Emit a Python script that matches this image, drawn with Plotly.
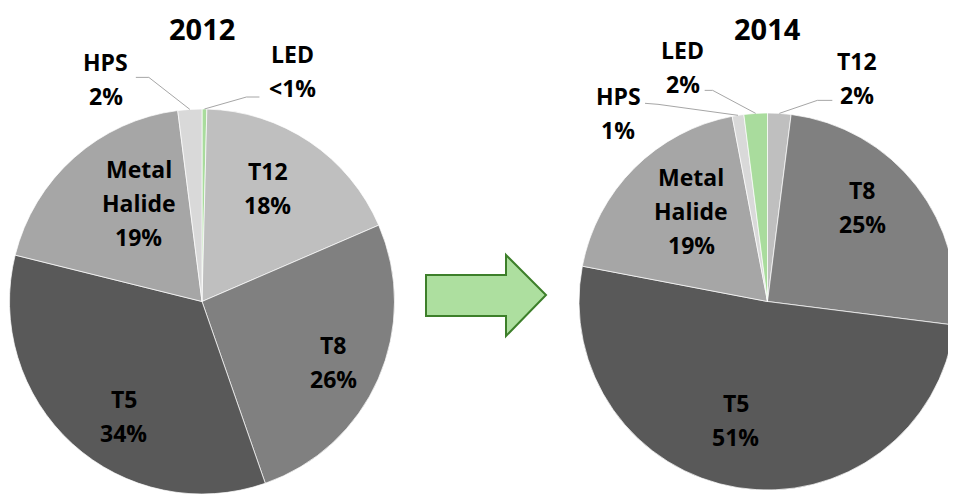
import math
import plotly.graph_objects as go

# ---------------- data ----------------
tech_2012 = ["LED", "T12", "T8", "T5", "Metal Halide", "HPS"]
share_2012 = [0.4, 18, 26, 34, 19, 2]
pct_2012 = ["<1%", "18%", "26%", "34%", "19%", "2%"]

tech_2014 = ["T12", "T8", "T5", "Metal Halide", "HPS", "LED"]
share_2014 = [2, 25, 51, 19, 1, 2]
pct_2014 = ["2%", "25%", "51%", "19%", "1%", "2%"]

titles = ["2012", "2014"]

# ---------------- styles ----------------
OFF = 8                       # page body margin
W, H = 956 - OFF, 494 - OFF   # figure size
colors = {"LED": "#a9dc9d", "T12": "#bfbfbf", "T8": "#808080", "T5": "#595959",
          "Metal Halide": "#a6a6a6", "HPS": "#d9d9d9"}
FONT = "Open Sans"
LBL_SIZE = 23
LINE_GAP = 34
TITLE_SIZE = 29


def dom_from_page(x0, x1, ytop):
    return dict(x=[max(0, (x0 - OFF) / W), min(1, (x1 - OFF) / W)],
                y=[0, (H - (ytop - OFF)) / H])


# pie domains from page pixel extents
dom_2012 = dom_from_page(9, 395, 109)
dom_2014 = dom_from_page(579, 956, 109)

# inside label placement: (radial fraction, angle nudge in degrees); None = outside label
inside_2012 = [None, (0.68, -4), (0.75, 1), (0.72, -8), (0.61, 9), None]
inside_2014 = [None, (0.71, -7), (0.65, 6), (0.63, 5), None, None]
# outside label: label-centre offset from slice edge tip, leader end and elbow offsets from label centre
outside_2012 = [((88, -38), (-33, 26), (-46, 26)), None, None, None, None,
                ((-84, -30), (30, -2), (43, -2))]
outside_2014 = [((78, -35), (-25, 22), (-40, 22)), None, None, None,
                ((-120, -2), (27, -10), (40, -9)),
                ((-73, -46), (22, 23), (30, 23))]

fig = go.Figure()
annotations = []
shapes = []


def px2paper(x, y):
    """figure pixel (from top-left) -> paper fraction"""
    return x / W, 1 - y / H


def add_pie(techs, shares, pcts, dom, inside, outside, title):
    fig.add_trace(go.Pie(
        labels=techs, values=shares, sort=False, direction="clockwise", rotation=0,
        domain=dom, textinfo="none", hoverinfo="label+percent", showlegend=False,
        marker=dict(colors=[colors[t] for t in techs], line=dict(color="white", width=0.7)),
    ))
    wpx = (dom["x"][1] - dom["x"][0]) * W
    hpx = (dom["y"][1] - dom["y"][0]) * H
    r = min(wpx, hpx) / 2
    cx = (dom["x"][0] + dom["x"][1]) / 2 * W
    cy = H * (1 - (dom["y"][0] + dom["y"][1]) / 2)
    total = sum(shares)
    cum = 0
    for t, v, p, ins, out in zip(techs, shares, pcts, inside, outside):
        mid = 2 * math.pi * (cum + v / 2) / total
        cum += v
        lines = t.split(" ") + [p]
        if ins is not None:
            f, da = ins
            a = mid + math.radians(da)
            lx = cx + f * r * math.sin(a)
            ly = cy - f * r * math.cos(a)
        else:
            (ox, oy), (ex, ey), (bx, by) = out
            tx = cx + r * math.sin(mid)
            ty = cy - r * math.cos(mid)
            lx, ly = tx + ox, ty + oy
            p0 = px2paper(tx, ty)
            p1 = px2paper(lx + bx, ly + by)
            p2 = px2paper(lx + ex, ly + ey)
            shapes.append(dict(type="path", xref="paper", yref="paper",
                               path=f"M {p0[0]} {p0[1]} L {p1[0]} {p1[1]} L {p2[0]} {p2[1]}",
                               line=dict(color="#a6a6a6", width=1)))
        n = len(lines)
        for i, s in enumerate(lines):
            yy = ly + (i - (n - 1) / 2) * LINE_GAP
            xp, yp = px2paper(lx, yy)
            annotations.append(dict(x=xp, y=yp, xref="paper", yref="paper", text=f"<b>{s}</b>",
                                    showarrow=False, xanchor="center", yanchor="middle",
                                    font=dict(family=FONT, size=LBL_SIZE, color="#000000")))
    tx, _ = px2paper(cx, 0)
    annotations.append(dict(x=tx, y=1, xref="paper", yref="paper", text=f"<b>{title}</b>",
                            showarrow=False, xanchor="center", yanchor="top", borderpad=0,
                            font=dict(family=FONT, size=TITLE_SIZE, color="#000000")))


add_pie(tech_2012, share_2012, pct_2012, dom_2012, inside_2012, outside_2012, titles[0])
add_pie(tech_2014, share_2014, pct_2014, dom_2014, inside_2014, outside_2014, titles[1])

# transition arrow between the two pies (page pixels)
arrow_pts = [(426, 275), (506, 275), (506, 255), (546, 295), (506, 336), (506, 316), (426, 316)]
arrow_path = "M " + " L ".join(
    "{} {}".format(*px2paper(x - OFF, y - OFF)) for x, y in arrow_pts) + " Z"
shapes.append(dict(type="path", xref="paper", yref="paper", path=arrow_path,
                   fillcolor="#addf9f", line=dict(color="#3d7f2a", width=2)))

fig.update_layout(width=W, height=H, margin=dict(l=0, r=0, t=0, b=0),
                  paper_bgcolor="white", plot_bgcolor="white",
                  annotations=annotations, shapes=shapes)
fig.write_html("out.html")
